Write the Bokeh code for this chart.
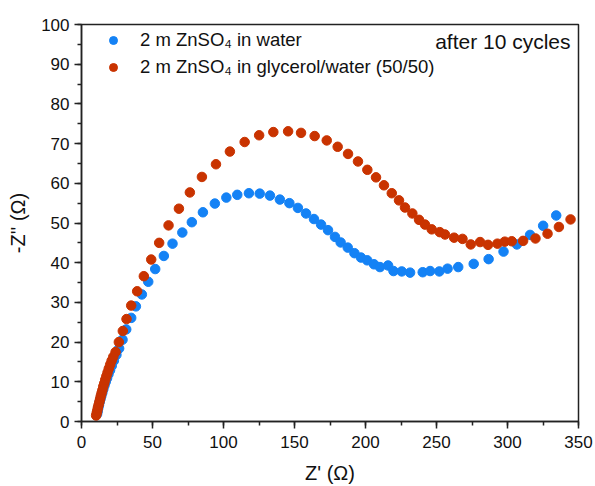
from bokeh.plotting import figure
from bokeh.models import (Range1d, SingleIntervalTicker, Legend, LegendItem,
                          Label, ColumnDataSource)
from bokeh.embed import file_html
from bokeh.resources import INLINE

# ---- data ----
water_x = [11.0, 11.4, 11.8, 12.3, 12.8, 13.4, 14.0, 14.7, 15.4, 16.2, 17.1, 18.0,
           19.0, 20.1, 21.3, 22.8, 24.6, 26.5, 28.9, 31.5, 35.0, 38.3, 42.5, 47.0,
           51.9, 58.0, 64.1, 71.0, 77.7, 85.5, 93.9, 102.0, 109.7, 117.9, 125.5,
           132.7, 139.7, 146.4, 152.4, 158.1, 163.7, 168.7, 173.6, 178.5, 182.5,
           187.5, 192.2, 196.8, 201.2, 206.0, 210.2, 215.9, 219.7, 225.5, 231.4,
           240.3, 245.5, 252.0, 257.8, 265.3, 276.2, 286.7, 297.2, 306.6, 315.9,
           325.1, 334.3]
water_y = [1.9, 2.6, 3.4, 4.1, 4.9, 5.7, 6.5, 7.3, 8.2, 9.1, 10.0, 10.9,
           11.9, 12.9, 14.0, 15.3, 16.8, 18.4, 20.6, 23.2, 26.1, 29.0, 32.0, 35.2,
           38.4, 41.7, 44.8, 47.6, 50.2, 52.7, 54.9, 56.4, 57.1, 57.5, 57.4,
           56.9, 55.9, 55.0, 53.8, 52.4, 51.0, 49.6, 48.2, 46.5, 45.1,
           43.8, 42.4, 41.3, 40.6, 39.6, 38.9, 39.3, 37.9, 37.8, 37.5,
           37.6, 37.9, 37.8, 38.5, 38.9, 39.7, 40.9, 42.8, 44.6, 47.0,
           49.3, 51.9]

glyc_x = [10.3, 10.7, 11.1, 11.5, 12.0, 12.5, 13.0, 13.5, 14.1, 14.7, 15.3, 16.0,
          16.7, 17.5, 18.3, 19.2, 20.2, 21.2, 22.4, 24.0, 26.3, 29.1, 31.7, 35.0,
          39.2, 43.9, 49.1, 54.7, 61.3, 68.6, 76.3, 84.8, 94.7, 104.5, 114.9,
          125.1, 135.1, 145.5, 154.6, 164.2, 172.7, 180.4, 187.7, 194.7, 201.3,
          207.4, 213.0, 218.5, 223.6, 227.8, 233.0, 237.7, 241.9, 246.6, 252.3,
          256.0, 262.4, 268.3, 274.1, 280.7, 286.3, 292.9, 298.1, 303.0, 311.0,
          319.7, 328.2, 336.2, 344.4]
glyc_y = [1.5, 2.1, 2.7, 3.4, 4.1, 4.8, 5.5, 6.3, 7.1, 7.9, 8.8, 9.6,
          10.5, 11.4, 12.3, 13.3, 14.3, 15.3, 16.3, 17.5, 20.0, 22.8, 25.8, 29.2,
          32.8, 36.6, 40.8, 45.0, 49.4, 53.6, 57.7, 61.6, 64.8, 68.0, 70.4,
          72.1, 72.9, 73.1, 72.7, 71.9, 70.8, 69.2, 67.4, 65.5, 63.4,
          61.5, 59.5, 57.5, 55.7, 53.9, 52.4, 50.8, 49.6, 48.4, 47.7,
          47.1, 46.3, 46.0, 44.6, 45.2, 44.5, 44.8, 45.3, 45.4, 45.5,
          46.1, 47.3, 49.0, 50.9]

series_labels = ["2 m ZnSO\u2084 in water",
                 "2 m ZnSO\u2084 in glycerol/water (50/50)"]
note_text = "after 10 cycles"
x_title = "Z' (\u03a9)"
y_title = "-Z'' (\u03a9)"

BLUE = "#1482F5"
RED = "#C93300"
FONT = "Liberation Sans"

p = figure(width=595, height=486, output_backend="svg", toolbar_location=None,
           x_range=Range1d(0, 350), y_range=Range1d(0, 100),
           min_border_left=81, min_border_right=17,
           min_border_top=24, min_border_bottom=65)
p.background_fill_color = "white"
p.border_fill_color = "white"
p.outline_line_color = "#222222"
p.outline_line_width = 1.5
p.xgrid.visible = False
p.ygrid.visible = False

src_w = ColumnDataSource(dict(x=water_x, y=water_y))
src_g = ColumnDataSource(dict(x=glyc_x, y=glyc_y))
rw = p.scatter("x", "y", source=src_w, size=9.5, fill_color=BLUE, line_color=BLUE)
rg = p.scatter("x", "y", source=src_g, size=9.5, fill_color=RED, line_color=RED)

p.xaxis.ticker = SingleIntervalTicker(interval=50, num_minor_ticks=2)
p.yaxis.ticker = SingleIntervalTicker(interval=10, num_minor_ticks=2)
for ax in (p.xaxis[0], p.yaxis[0]):
    ax.axis_line_color = "#222222"
    ax.axis_line_width = 1.5
    ax.major_tick_line_color = "#222222"
    ax.minor_tick_line_color = "#222222"
    ax.major_tick_line_width = 1.5
    ax.minor_tick_line_width = 1.5
    ax.major_tick_in = 0
    ax.major_tick_out = 7
    ax.minor_tick_in = 0
    ax.minor_tick_out = 4
    ax.major_label_text_font = FONT
    ax.major_label_text_font_size = "17px"
    ax.major_label_text_color = "#111111"
    ax.axis_label_text_font = FONT
    ax.axis_label_text_font_size = "20px"
    ax.axis_label_text_font_style = "normal"
    ax.axis_label_text_color = "#111111"

p.yaxis.major_label_standoff = 5
p.xaxis.major_label_standoff = 7
p.xaxis.axis_label = x_title
p.yaxis.axis_label = y_title
p.xaxis.axis_label_standoff = 11
p.yaxis.axis_label_standoff = 9

legend = Legend(items=[LegendItem(label=series_labels[0], renderers=[rw]),
                       LegendItem(label=series_labels[1], renderers=[rg])],
                location="top_left", margin=5, padding=0,
                glyph_width=54, glyph_height=20, label_standoff=0, spacing=5,
                border_line_color=None, background_fill_alpha=0,
                label_text_font=FONT, label_text_font_size="18.5px",
                label_text_color="#111111")
p.add_layout(legend)

note = Label(x=344.4, y=95.8, text=note_text, text_align="right",
             text_baseline="middle", text_font=FONT, text_font_size="21px",
             text_color="#111111")
p.add_layout(note)

open("out.html", "w").write(file_html(p, INLINE))
